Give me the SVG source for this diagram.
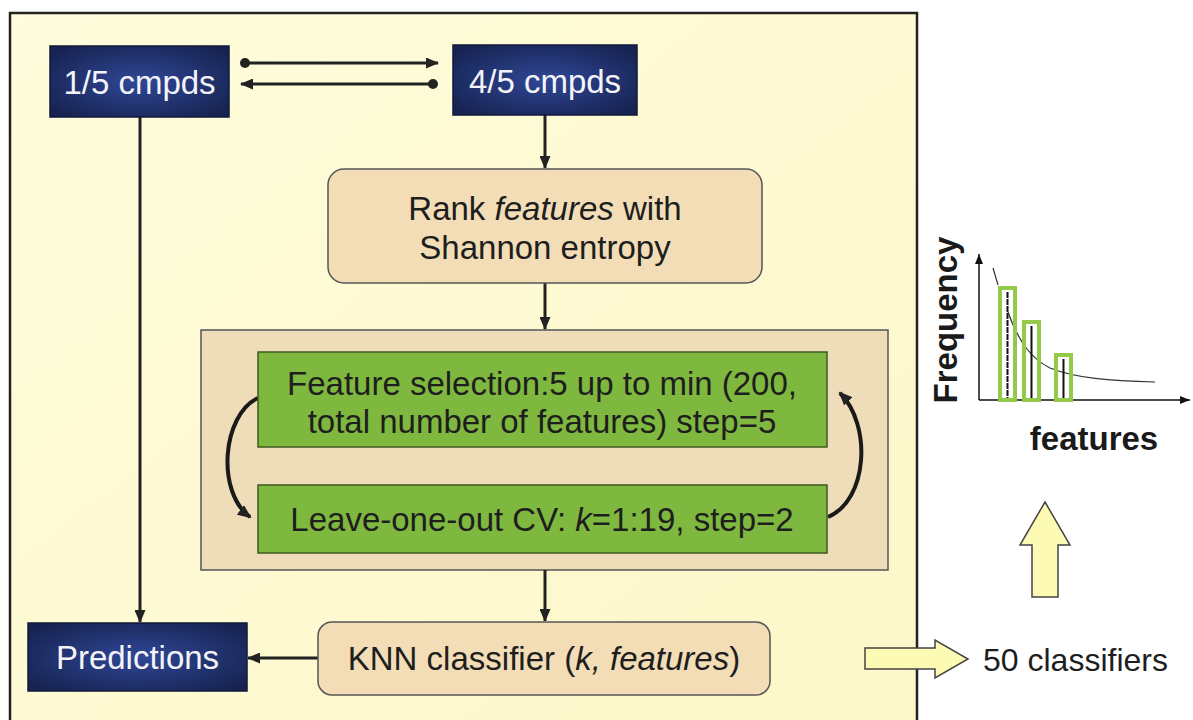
<svg xmlns="http://www.w3.org/2000/svg" width="1193" height="720" viewBox="0 0 1193 720">
<defs>
<radialGradient id="navy" cx="50%" cy="50%" r="65%">
<stop offset="0" stop-color="#2f4796"/>
<stop offset="1" stop-color="#16224f"/>
</radialGradient>
<linearGradient id="bg" x1="0" y1="0" x2="1" y2="1">
<stop offset="0" stop-color="#fefcdc"/>
<stop offset="1" stop-color="#fdf7c8"/>
</linearGradient>
<marker id="ah" viewBox="0 0 13 11" refX="12" refY="5.5" markerWidth="13" markerHeight="11" markerUnits="userSpaceOnUse" orient="auto">
<path d="M0,0 L13,5.5 L0,11 z" fill="#222"/>
</marker>
<marker id="ahb" viewBox="0 0 14 12" refX="12" refY="6" markerWidth="14" markerHeight="12" markerUnits="userSpaceOnUse" orient="auto">
<path d="M0,0 L14,6 L0,12 z" fill="#222"/>
</marker>
<marker id="dot" viewBox="0 0 12 12" refX="6" refY="6" markerWidth="12" markerHeight="12" markerUnits="userSpaceOnUse">
<circle cx="6" cy="6" r="5" fill="#222"/>
</marker>
<marker id="ahs" viewBox="0 0 10 8" refX="10" refY="4" markerWidth="10" markerHeight="8" markerUnits="userSpaceOnUse" orient="auto">
<path d="M0,0 L10,4 L0,8 z" fill="#111"/>
</marker>
</defs>
<style>
.navy{fill:url(#navy);stroke:#111a3a;stroke-width:1.5}
.tan{fill:#f2ddb6;stroke:#555;stroke-width:1.5}
.green{fill:#7fb83e;stroke:#3f5a22;stroke-width:1.5}
.t{font-family:"Liberation Sans",Arial,sans-serif;font-size:33px;fill:#1e1e1e;text-anchor:middle}
.w{fill:#f4f4f8}
.lbl{font-family:"Liberation Sans",Arial,sans-serif;font-size:32px;fill:#1e1e1e;text-anchor:start}
.con{fill:none;stroke:#222;stroke-width:3}
.loop{fill:none;stroke:#1a1a1a;stroke-width:4}
.yarrow{fill:#fdfab4;stroke:#444;stroke-width:1.5}
.b{font-family:"Liberation Sans",Arial,sans-serif;font-size:33px;font-weight:bold;fill:#1a1a1a;text-anchor:middle}
</style>
<rect x="0" y="0" width="1193" height="720" fill="#ffffff"/>
<rect id="frame" x="10" y="13" width="907" height="720" fill="url(#bg)" stroke="#222" stroke-width="2.5"/>

<g id="box-cv">
<rect x="201" y="330" width="687" height="240" class="tan" style="fill:#efdcb8"/>
</g>

<g id="connectors">
<line x1="245" y1="63" x2="438" y2="63" class="con" marker-start="url(#dot)" marker-end="url(#ah)"/>
<line x1="433" y1="84" x2="241" y2="84" class="con" marker-start="url(#dot)" marker-end="url(#ah)"/>
<line x1="140" y1="117" x2="140" y2="622" class="con" marker-end="url(#ah)"/>
<line x1="545" y1="115" x2="545" y2="168" class="con" marker-end="url(#ah)"/>
<line x1="545" y1="283" x2="545" y2="329" class="con" marker-end="url(#ah)"/>
<line x1="545" y1="570" x2="545" y2="621" class="con" marker-end="url(#ah)"/>
<line x1="318" y1="658" x2="248" y2="658" class="con" marker-end="url(#ah)"/>
<path d="M258,398 C 222,415 216,492 250,517" class="loop" marker-end="url(#ahb)"/>
<path d="M828,517 C 868,500 872,425 840,393" class="loop" marker-end="url(#ahb)"/>
</g>

<g id="n15">
<rect x="50" y="46" width="179" height="71" class="navy"/>
<text x="139.5" y="94" class="t w">1/5 cmpds</text>
</g>
<g id="n45">
<rect x="453" y="45" width="184" height="70" class="navy"/>
<text x="545" y="93" class="t w">4/5 cmpds</text>
</g>
<g id="rank">
<rect x="328" y="169" width="434" height="114" rx="16" class="tan"/>
<text x="545" y="220" class="t">Rank <tspan font-style="italic">features</tspan> with</text>
<text x="545" y="259" class="t">Shannon entropy</text>
</g>
<g id="fs">
<rect x="258" y="352" width="569" height="95" class="green"/>
<text x="542" y="395" class="t">Feature selection:5 up to min (200,</text>
<text x="542" y="433" class="t">total number of features) step=5</text>
</g>
<g id="loo">
<rect x="258" y="485" width="569" height="68" class="green"/>
<text x="542" y="531" class="t">Leave-one-out CV: <tspan font-style="italic">k</tspan>=1:19, step=2</text>
</g>
<g id="pred">
<rect x="28" y="623" width="219" height="68" class="navy"/>
<text x="137.5" y="669" class="t w">Predictions</text>
</g>
<g id="knn">
<rect x="318" y="622" width="452" height="73" rx="14" class="tan"/>
<text x="544" y="670" class="t">KNN classifier (<tspan font-style="italic">k, features</tspan>)</text>
</g>

<g id="chart">
<line x1="979" y1="400" x2="979" y2="254" stroke="#111" stroke-width="1.5" marker-end="url(#ahs)"/>
<line x1="979" y1="400" x2="1190" y2="400" stroke="#111" stroke-width="1.5" marker-end="url(#ahs)"/>
<path d="M993,268 L998,285" fill="none" stroke="#333" stroke-width="1.2"/>
<path d="M1008,312 C 1018,340 1030,358 1050,368 C 1075,378 1110,381 1155,382" fill="none" stroke="#333" stroke-width="1.2"/>
<rect x="1000" y="288" width="15" height="112" fill="none" stroke="#94c94a" stroke-width="4"/>
<line x1="1007.5" y1="292" x2="1007.5" y2="398" stroke="#111" stroke-width="2" stroke-dasharray="6 1"/>
<rect x="1024" y="322" width="15" height="78" fill="none" stroke="#94c94a" stroke-width="4"/>
<line x1="1031.5" y1="326" x2="1031.5" y2="398" stroke="#111" stroke-width="2"/>
<rect x="1056" y="355" width="15" height="45" fill="none" stroke="#94c94a" stroke-width="4"/>
<line x1="1063.5" y1="359" x2="1063.5" y2="398" stroke="#111" stroke-width="2"/>
<text class="b" transform="translate(957,320) rotate(-90)">Frequency</text>
<text class="b" x="1094" y="450">features</text>
</g>

<g id="up-arrow">
<path d="M1045,502 L1070,545 L1058,545 L1058,597 L1032,597 L1032,545 L1020,545 Z" class="yarrow"/>
</g>
<g id="right-arrow">
<path d="M865,648 L935,648 L935,640 L968,659 L935,678 L935,669 L865,669 Z" class="yarrow"/>
</g>
<g id="label50">
<text class="lbl" x="983" y="671">50 classifiers</text>
</g>
</svg>
